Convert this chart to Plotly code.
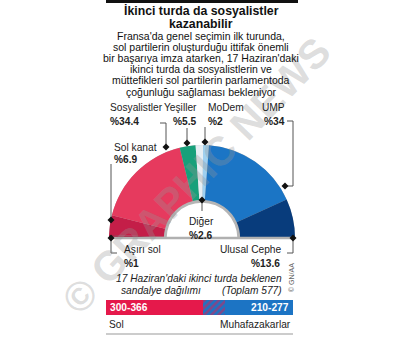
import plotly.graph_objects as go

W, H = 404, 345

# ---- data ----
parties = ["Aşırı sol", "Sol kanat", "Sosyalistler", "Yeşiller", "Diğer", "MoDem", "UMP", "Ulusal Cephe"]
shares = [1, 6.9, 34.4, 5.5, 2.6, 2, 34, 13.6]
party_colors = ["#A3163A", "#C41E48", "#E63A5E", "#17A07A", "#E6EEF3", "#9FD0F0", "#1B75C5", "#083C7C"]

seats_total = 577
sol_range = (300, 366)
muh_range = (210, 277)

title_lines = ["İkinci turda da sosyalistler", "kazanabilir"]
sub_lines = [
    "Fransa'da genel seçimin ilk turunda,",
    "sol partilerin oluşturduğu ittifak önemli",
    "bir başarıya imza atarken, 17 Haziran'daki",
    "ikinci turda da sosyalistlerin ve",
    "müttefikleri sol partilerin parlamentoda",
    "çoğunluğu sağlaması bekleniyor",
]

FONT = "Liberation Sans, Arial, sans-serif"


def px(x):
    return x / W


def py(y):
    return 1 - y / H


fig = go.Figure()

# grey bevel ring at inner edge
dom = dict(x=[px(202 - 93), px(202 + 93)], y=[py(238 + 93), py(238 - 93)])
fig.add_trace(go.Pie(
    values=[sum(shares), sum(shares)], marker=dict(colors=["#B5B5B5", "rgba(0,0,0,0)"], line=dict(width=0)),
    hole=0.38, sort=False, direction="clockwise", rotation=-90, textinfo="none",
    hoverinfo="skip", domain=dom, showlegend=False,
))
# half donut
fig.add_trace(go.Pie(
    values=shares + [sum(shares)], labels=parties + [""],
    marker=dict(colors=party_colors + ["rgba(0,0,0,0)"], line=dict(width=0)),
    hole=0.41, sort=False, direction="clockwise", rotation=-90, textinfo="none",
    hoverinfo="skip", domain=dom, showlegend=False,
))

# seat distribution bar
red_w = sol_range[0]
blue_w = muh_range[0]
hatch_w = seats_total - red_w - blue_w
fig.add_trace(go.Bar(x=[red_w], y=[0], orientation="h", marker=dict(color="#E5194B", line=dict(width=0)),
                     hoverinfo="skip", showlegend=False, width=1))
fig.add_trace(go.Bar(x=[hatch_w], y=[0], orientation="h",
                     marker=dict(color="#1C74C4", line=dict(width=0),
                                 pattern=dict(shape="/", fgcolor="#E5194B", size=5, solidity=0.5)),
                     hoverinfo="skip", showlegend=False, width=1))
fig.add_trace(go.Bar(x=[blue_w], y=[0], orientation="h", marker=dict(color="#1C74C4", line=dict(width=0)),
                     hoverinfo="skip", showlegend=False, width=1))

ann = []


def txt(x, y, s, size=10.2, bold=False, anchor="left", color="#222", italic=False, angle=0, family=FONT):
    t = f"<b>{s}</b>" if bold else s
    if italic:
        t = f"<i>{t}</i>"
    ann.append(dict(x=px(x), y=py(y), xref="paper", yref="paper", text=t, showarrow=False,
                    xanchor=anchor, yanchor="middle", textangle=angle,
                    font=dict(size=size, color=color, family=family)))


# watermark
ann.append(dict(x=px(196), y=py(176), xref="paper", yref="paper", text="<b>© GRAPHIC NEWS</b>",
                showarrow=False, textangle=-46,
                font=dict(size=41, color="rgba(150,150,150,0.33)", family=FONT)))

txt(201, 11, title_lines[0], size=12.3, bold=True, anchor="center", color="#111")
txt(201, 24.5, title_lines[1], size=12.3, bold=True, anchor="center", color="#111")
for i, s in enumerate(sub_lines):
    txt(201, 36 + i * 11.1, s, size=10.5, anchor="center", color="#111")

txt(108, 108, "Sosyalistler")
txt(108, 121, "%" + f"{shares[2]}", bold=True)
txt(199, 108, "Yeşiller", anchor="right")
txt(199, 121, "%" + f"{shares[3]}", bold=True, anchor="right")
txt(206, 108, "MoDem")
txt(206, 121, "%" + f"{shares[5]:g}", bold=True)
txt(287, 108, "UMP", anchor="right")
txt(287, 121, "%" + f"{shares[6]:g}", bold=True, anchor="right")
txt(112, 147, "Sol kanat")
txt(112, 159, "%" + f"{shares[1]}", bold=True)
txt(122, 249, "Aşırı sol")
txt(122, 263, "%" + f"{shares[0]:g}", bold=True)
txt(283, 249, "Ulusal Cephe", anchor="right")
txt(282, 263, "%" + f"{shares[7]}", bold=True, anchor="right")
txt(201, 222, "Diğer", anchor="center")
txt(201, 235, "%" + f"{shares[4]}", bold=True, anchor="center")

txt(284, 278, "17 Haziran'daki ikinci turda beklenen", italic=True, anchor="right")
txt(119, 290, "sandalye dağılımı", italic=True)
txt(284, 290, f"(Toplam {seats_total})", italic=True, anchor="right")
txt(291, 278, "© GN/AA", size=7, color="#666", anchor="center", angle=-90)

txt(108, 307.5, f"{sol_range[0]}-{sol_range[1]}", bold=True, color="white")
txt(291, 307.5, f"{muh_range[0]}-{muh_range[1]}", bold=True, color="white", anchor="right")
txt(107, 324, "Sol")
txt(293, 324, "Muhafazakarlar", anchor="right")

shapes = []


def line(pts, color="#555", width=1):
    path = "M " + " L ".join(f"{px(x)},{py(y)}" for x, y in pts)
    shapes.append(dict(type="path", path=path, xref="paper", yref="paper",
                       line=dict(color=color, width=width)))


def diamond(x, y, r=3.5):
    pts = [(x, y - r), (x + r, y), (x, y + r), (x - r, y)]
    path = "M " + " L ".join(f"{px(a)},{py(b)}" for a, b in pts) + " Z"
    shapes.append(dict(type="path", path=path, xref="paper", yref="paper",
                       fillcolor="#111", line=dict(width=0)))


# top black bar
shapes.append(dict(type="rect", x0=px(106), x1=px(298), y0=py(3), y1=py(0), xref="paper", yref="paper",
                   fillcolor="#111", line=dict(width=0)))
# base line under half donut
shapes.append(dict(type="line", x0=px(109), x1=px(295), y0=py(238), y1=py(238), xref="paper", yref="paper",
                   line=dict(color="#B0B0B0", width=2.5)))
# bottom rule
shapes.append(dict(type="line", x0=px(106), x1=px(293), y0=py(334), y1=py(334), xref="paper", yref="paper",
                   line=dict(color="#999", width=1)))

# leader lines
line([(160, 123), (166, 123), (166, 147)])
diamond(166, 147)
line([(187, 128), (187, 143)])
diamond(187, 143)
line([(205, 127), (205, 142)])
diamond(205, 142)
line([(287, 121), (293, 121), (293, 186), (286, 186)])
diamond(285, 186)
line([(111, 164), (111, 220)])
diamond(111, 220)
line([(111, 238), (111, 253), (117, 253)])
diamond(111, 238)
line([(293, 238), (293, 253), (287, 253)])
diamond(293, 238)
line([(202, 200), (202, 211)])
diamond(202, 200)

fig.update_layout(
    width=W, height=H, margin=dict(l=0, r=0, t=0, b=0),
    paper_bgcolor="white", plot_bgcolor="rgba(0,0,0,0)",
    barmode="stack", bargap=0,
    xaxis=dict(domain=[px(106), px(293)], range=[0, seats_total], visible=False, fixedrange=True),
    yaxis=dict(domain=[py(315), py(300)], range=[-0.5, 0.5], visible=False, fixedrange=True),
    annotations=ann, shapes=shapes,
)

fig.write_html("out.html")
